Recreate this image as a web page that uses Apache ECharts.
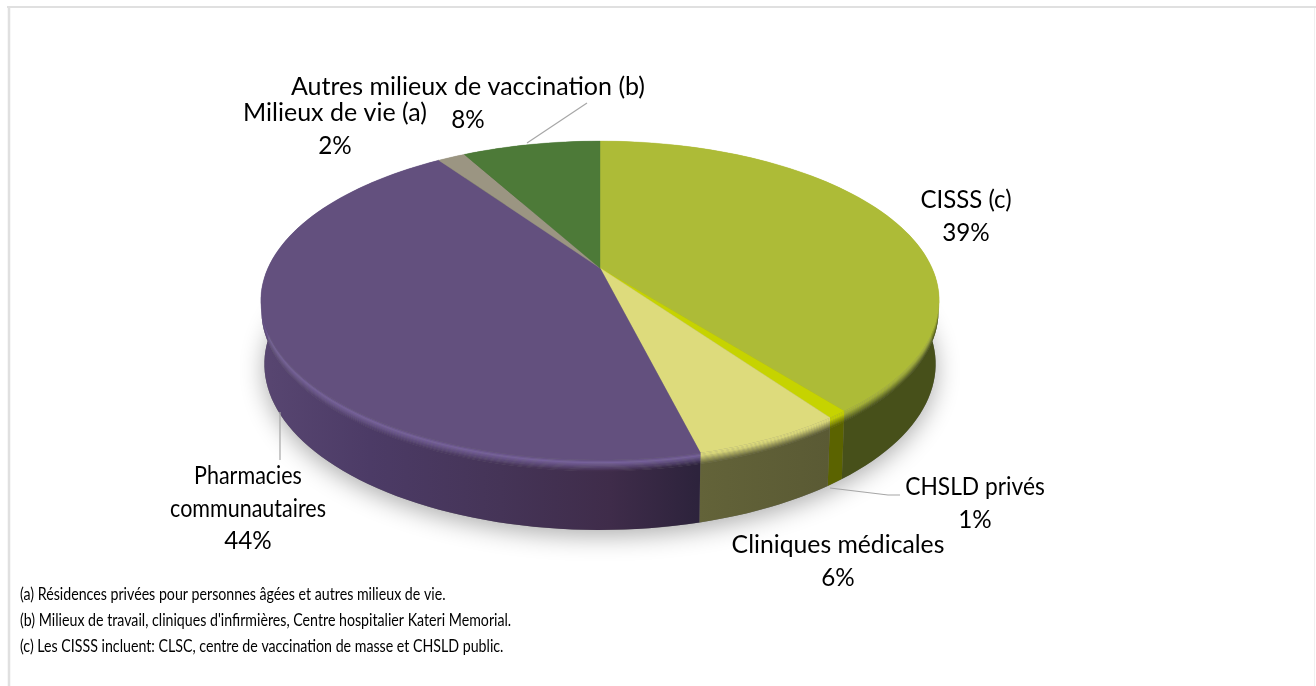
<!DOCTYPE html>
<html>
<head>
<meta charset="utf-8">
<style>
html, body { margin: 0; padding: 0; background: #fff; }
#chart { width: 1316px; height: 686px; }
</style>
<script src="https://cdn.jsdelivr.net/npm/echarts@6/dist/echarts.min.js"></script>
</head>
<body>
<div id="chart"></div>
<script>
const categories = ['CISSS (c)', 'CHSLD privés', 'Cliniques médicales', 'Pharmacies\ncommunautaires', 'Milieux de vie (a)', 'Autres milieux de vaccination (b)']
const values = [39.4, 0.8, 5.9, 44.3, 1.6, 8.0]
const footnotes = [
  '(a) Résidences privées pour personnes âgées et autres milieux de vie.',
  "(b) Milieux de travail, cliniques d'infirmières, Centre hospitalier Kateri Memorial.",
  '(c) Les CISSS incluent: CLSC, centre de vaccination de masse et CHSLD public.'
]

// colours, one per slice
const faceColors = ['#adbb37', '#c6d300', '#dddb7c', '#63507e', '#9b9582', '#4d7a38']
const rimColors = ['#a3b035', '#c0cc00', '#d6d478', '#75609a', '#9b9582', '#4d7a38']
const wallStops = [
  [[0, '#47501a'], [1, '#47501a']],
  [[0, '#5b6300'], [1, '#5b6300']],
  [[0, '#636339'], [1, '#5a5a34']],
  [[0, '#584671'], [0.25, '#4c3b66'], [0.55, '#453457'], [0.8, '#3f2c4a'], [1, '#2d233c']],
  [[0, '#6e6a5c'], [1, '#6e6a5c']],
  [[0, '#355426'], [1, '#355426']]
]
const wallRange = [[600, 940], [600, 940], [698, 830], [261, 697], [261, 697], [261, 697]]

// label layout: centre x and centre y of the first line, horizontal squeeze
const labelPos = [[966, 200], [975, 487], [838, 545], [248, 476], [335, 113], [468, 87]]
const labelFit = [0.96, 0.91, 0.99, 0.86, 1, 1]
const lineHeight = 32.5
const leaders = [
  [[527, 143], [587, 103]],
  [[280, 412], [280, 460]],
  [[830, 488], [888, 495], [900, 495]]
]

// pie projection
const cx = 600
const apexY = 268
const tilt = 0.204
const scaleX = 332
const scaleY = 152.8
const ellipseY = 300.5
const depth = 63.5
const bevel = 10

const total = values.reduce((a, b) => a + b, 0)
const starts = []
values.reduce((acc, v, i) => { starts[i] = acc; return acc + v }, 0)

// point of the pie rim at a share of the total (from 12 o'clock, clockwise), dy px below the top face
function rimPoint(share, dy) {
  const a = share / total * Math.PI * 2
  const u = Math.sin(a)
  const v = -Math.cos(a)
  const s = 1 / (1 - tilt * v)
  const x = cx + scaleX * u * s
  const y = apexY + scaleY * v * s
  const t = dy / depth
  return [
    cx + (x - cx) * (1 - 3.5 * t / 339),
    ellipseY + dy + (y - ellipseY) * (1 + 6.5 * t / 159.5)
  ]
}

function arc(from, to, dy) {
  const n = Math.max(2, Math.ceil((to - from) * 2))
  const pts = []
  for (let i = 0; i <= n; i++) pts.push(rimPoint(from + (to - from) * i / n, dy))
  return pts
}

function band(i, dyTop, dyBottom) {
  const a = starts[i]
  const b = a + values[i]
  return arc(a, b, dyTop).concat(arc(a, b, dyBottom).reverse())
}

function wallGradient(i, mix, mixColor) {
  const stops = wallStops[i].map(([offset, c]) => ({
    offset,
    color: mix > 0 ? echarts.color.lerp(mix, [c, mixColor]) : c
  }))
  return new echarts.graphic.LinearGradient(wallRange[i][0], 0, wallRange[i][1], 0, stops, true)
}

function renderShadow() {
  return {
    type: 'polygon',
    shape: { points: arc(0, total, depth) },
    style: {
      fill: '#777',
      shadowColor: 'rgba(0,0,0,0.32)',
      shadowBlur: 24,
      shadowOffsetY: 6
    }
  }
}

function renderWall(params) {
  const i = params.dataIndex
  const children = [{
    type: 'polygon',
    shape: { points: band(i, bevel, depth) },
    style: { fill: wallGradient(i, 0), stroke: null }
  }]
  // rounded edge between the top face and the wall
  for (let k = 0; k < bevel; k++) {
    const p = (k + 0.5) / bevel
    const fill = p < 0.25
      ? echarts.color.lerp(p / 0.25, [faceColors[i], rimColors[i]])
      : null
    children.push({
      type: 'polygon',
      shape: { points: band(i, k, k + 1.3) },
      style: { fill: fill || wallGradient(i, 1 - (p - 0.25) / 0.75, rimColors[i]) }
    })
  }
  return { type: 'group', children }
}

function renderFace(params) {
  const i = params.dataIndex
  const a = starts[i]
  const b = a + values[i]
  const pts = [[cx, apexY]].concat(arc(a, b, 0))
  return {
    type: 'polygon',
    shape: { points: pts },
    style: { fill: faceColors[i], stroke: faceColors[i], lineWidth: 0.4 }
  }
}

function renderLabel(params, api) {
  const i = params.dataIndex
  const pct = Math.round(api.value(0) / total * 100) + '%'
  const names = categories[i].split('\n')
  const lines = names.concat(pct)
  return {
    type: 'group',
    children: lines.map((line, n) => ({
      type: 'text',
      x: labelPos[i][0],
      y: labelPos[i][1] + n * lineHeight,
      scaleX: n < names.length ? labelFit[i] : 0.97,
      style: {
        text: line,
        fill: '#000',
        font: '25px Lato',
        align: 'center',
        verticalAlign: 'middle'
      }
    }))
  }
}

const chart = echarts.init(document.getElementById('chart'), null, { renderer: 'canvas' })

const frame = [
  { type: 'line', silent: true, shape: { x1: 7, y1: 7, x2: 1316, y2: 7 }, style: { stroke: '#e0e0e0', lineWidth: 2 } },
  { type: 'line', silent: true, shape: { x1: 9, y1: 6, x2: 9, y2: 686 }, style: { stroke: '#e0e0e0', lineWidth: 2.5 } },
  { type: 'line', silent: true, shape: { x1: 1314.5, y1: 8, x2: 1314.5, y2: 686 }, style: { stroke: '#f0f0f0', lineWidth: 1 } }
]
const leaderLines = leaders.map((points) => ({
  type: 'polyline',
  silent: true,
  z: 5,
  shape: { points },
  style: { fill: null, stroke: '#a6a6a6', lineWidth: 1.2 }
}))
const footnoteTexts = footnotes.map((text, i) => ({
  type: 'text',
  silent: true,
  x: 20,
  y: 595 + i * 26,
  scaleX: 0.86,
  style: { text, fill: '#000', font: '16.5px Lato', verticalAlign: 'middle' }
}))

chart.setOption({
  animation: false,
  backgroundColor: '#fff',
  graphic: { elements: frame.concat(leaderLines, footnoteTexts) },
  series: [
    { type: 'custom', coordinateSystem: 'none', silent: true, z: 1, data: [total], renderItem: renderShadow },
    { type: 'custom', coordinateSystem: 'none', silent: true, z: 2, data: values, renderItem: renderWall },
    { type: 'custom', coordinateSystem: 'none', silent: true, z: 3, data: values, renderItem: renderFace },
    { type: 'custom', coordinateSystem: 'none', silent: true, z: 4, data: values, renderItem: renderLabel }
  ]
})

window.addEventListener('resize', () => chart.resize())
</script>
</body>
</html>
